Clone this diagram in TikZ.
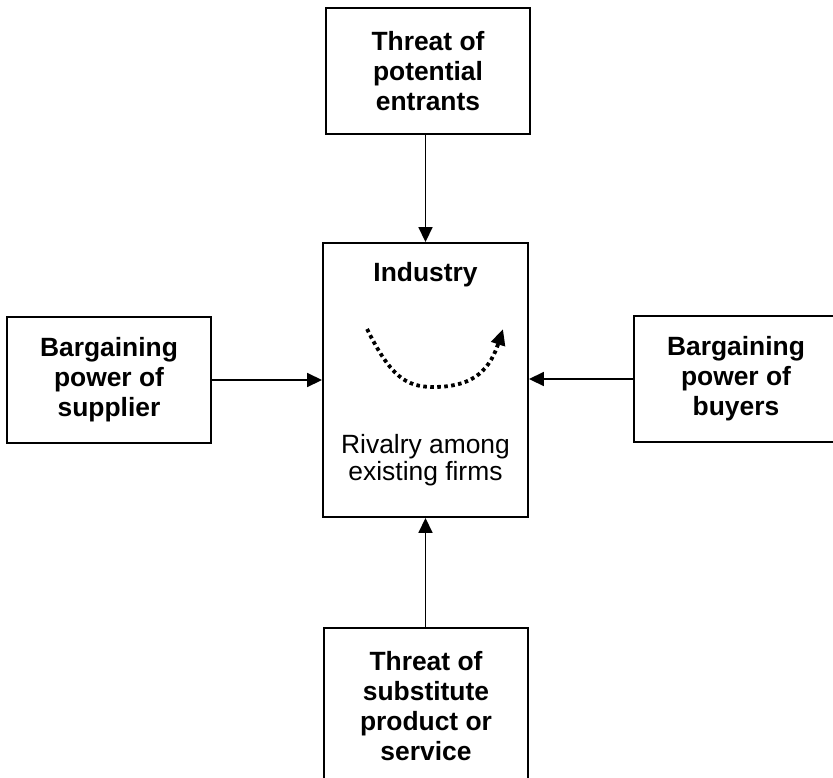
\documentclass[tikz,border=0pt]{standalone}
\usepackage{fontspec}
\setmainfont{Liberation Sans}
\usetikzlibrary{arrows.meta}

\begin{document}
\begin{tikzpicture}[x=1pt, y=-1pt,
  forcebox/.style={draw=black, line width=1.9pt, fill=white, align=center,
    minimum width=204pt, minimum height=126pt, inner sep=0pt,
    font=\fontsize{26.4}{30}\selectfont\bfseries},
  plaintext/.style={align=center, inner sep=0pt},
  push/.style={line width=1.7pt, -{Triangle[length=15pt, width=14pt]}},
  swirl/.style={line width=3.8pt, dash pattern=on 3.6pt off 3.4pt,
    -{Triangle[length=16pt, width=14pt]}}]

  \useasboundingbox (0,0) rectangle (833,777);
  \clip (0,0) rectangle (833,777);

  % the industry in the centre
  \node[forcebox, minimum width=205pt, minimum height=274pt] (industry) at (425.5,380) {};
  \node[plaintext, font=\fontsize{26.4}{30}\selectfont\bfseries] (indtitle) at (425.5,275) {Industry};
  \node[plaintext, font=\fontsize{26.4}{27}\selectfont] (rivalry) at (425.5,460) {Rivalry among\\existing firms};

  % the four outside forces
  \node[forcebox] (entrants) at (428,71) {Threat of\\potential\\entrants};
  \node[forcebox] (supplier) at (109,380) {Bargaining\\power of\\supplier};
  \node[forcebox] (buyers) at (736,379) {Bargaining\\power of\\buyers};
  \node[forcebox, minimum height=156pt] (substitute) at (426,706) {Threat of\\substitute\\product or\\service};

  % pressure on the industry
  \draw[push] (entrants.south -| industry.north) -- (industry.north);
  \draw[push] (supplier.east) -- (industry.west |- supplier.east);
  \draw[push] (buyers.west) -- (industry.east |- buyers.west);
  \draw[push] (substitute.north -| industry.south) -- (industry.south);

  % rivalry among the firms
  \coordinate (swirlstart) at (367,329);
  \coordinate (swirlbottom) at (433,387);
  \coordinate (swirlend) at (503,329);
  \draw[swirl] (swirlstart) .. controls (390,375) and (405,387) .. (swirlbottom)
    .. controls (468,387) and (488,375) .. (swirlend);
\end{tikzpicture}
\end{document}
